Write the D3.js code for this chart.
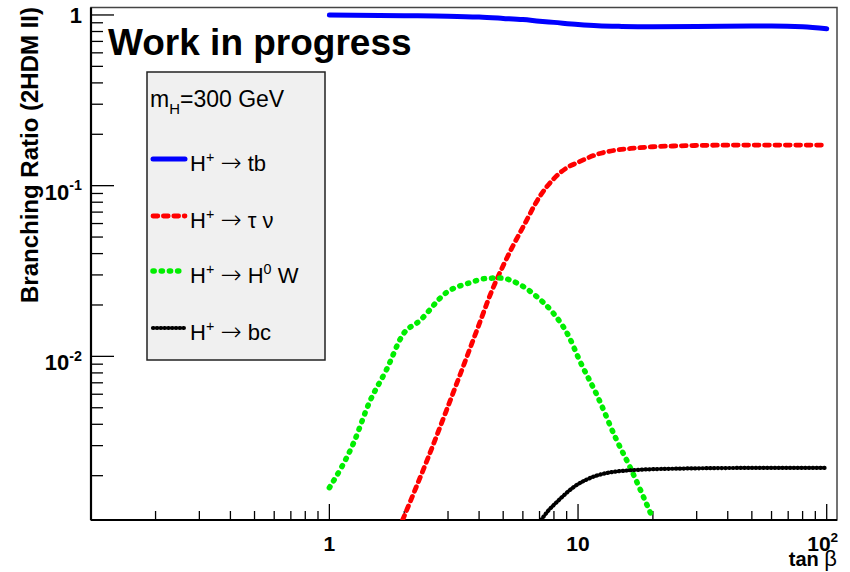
<!DOCTYPE html>
<html>
<head>
<meta charset="utf-8">
<script src="https://cdn.jsdelivr.net/npm/d3@7"></script>
<style>
  body { margin: 0; background: #fff; }
  svg { display: block; }
  text { font-family: "Liberation Sans", Arial, Helvetica, sans-serif; }
  .arrow { font-family: "DejaVu Sans", sans-serif; font-weight: 200; }
</style>
</head>
<body>
<div id="chart"></div>
<script>
const W = 850, H = 572;
const margin = { left: 91, right: 13, top: 7.5, bottom: 52 };

// H+ -> tb
const tbTan = [1, 2, 3, 4, 5, 6, 7, 8, 10, 12, 15, 20, 30, 50, 60, 80, 100];
const tbBR  = [0.998, 0.99, 0.984, 0.972, 0.955, 0.94, 0.92, 0.905, 0.88, 0.865, 0.857, 0.853, 0.857, 0.862, 0.862, 0.852, 0.83];

// H+ -> tau nu
const tvTan = [1.97, 2.5, 3, 3.5, 4, 4.5, 5, 5.5, 6, 7, 8, 9, 10, 12, 14, 17, 20, 25, 30, 50, 100];
const tvBR  = [0.0011, 0.00257, 0.0051, 0.0092, 0.0154, 0.0242, 0.034, 0.045, 0.057, 0.086, 0.110, 0.127, 0.137, 0.153, 0.161, 0.166, 0.169, 0.171, 0.172, 0.173, 0.173];

// H+ -> H0 W
const hwTan = [1.0, 1.25, 1.45, 1.7, 1.98, 2.3, 2.95, 3.67, 4.27, 4.84, 5.82, 6.79, 7.93, 9.23, 10.1, 12, 14.2, 16.1, 19.9];
const hwBR  = [0.0017, 0.0031, 0.0054, 0.0084, 0.0135, 0.0161, 0.0236, 0.027, 0.0286, 0.0288, 0.0264, 0.0225, 0.018, 0.0129, 0.0096, 0.0058, 0.0033, 0.00228, 0.00114];

// H+ -> bc
const bcTan = [7.1, 7.6, 8.17, 9.53, 11.85, 16.1, 25.5, 50, 100];
const bcBR  = [0.0011, 0.00125, 0.00139, 0.0017, 0.002, 0.00215, 0.0022, 0.00222, 0.00222];

const seriesNames  = ["H^{+} → tb", "H^{+} → τ ν", "H^{+} → H^{0} W", "H^{+} → bc"];
const seriesColors = ["#0000ff", "#ff0000", "#00ee00", "#000000"];

const xTickVals = [1, 10, 100];
const xTickText = ["1", "10", "10^{2}"];
const yTickVals = [1, 0.1, 0.01];
const yTickText = ["1", "10^{-1}", "10^{-2}"];

const styles = [
  { width: 5, dash: null, cap: "round" },
  { width: 4.8, dash: "4.8,5.6", cap: "round" },
  { width: 5.5, dash: "1.2,7", cap: "round" },
  { width: 4.2, dash: "0.5,3.3", cap: "round" }
];

const x = d3.scaleLog().domain([0.11, 110]).range([margin.left, W - margin.right]);
const y = d3.scaleLog().domain([0.0011, 1.106]).range([H - margin.bottom, margin.top]);

const svg = d3.select("#chart").append("svg")
  .attr("width", W)
  .attr("height", H);

// rich text with ^{} and _{} ; the arrow gets its own font
function richText(sel, str, size) {
  const parts = str.split(/(\^\{[^}]*\}|_\{[^}]*\}|→)/).filter(s => s.length);
  let shift = 0;
  parts.forEach(p => {
    let txt = p, fs = size, target = 0;
    if (p.startsWith("^{")) { target = -0.42 * size; txt = p.slice(2, -1); fs = size * 0.65; }
    else if (p.startsWith("_{")) { target = 0.3 * size; txt = p.slice(2, -1); fs = size * 0.65; }
    const ts = sel.append("tspan").attr("dy", target - shift).attr("font-size", fs).text(txt);
    if (p === "→") ts.attr("class", "arrow").attr("font-size", size * 1.15);
    shift = target;
  });
  return sel;
}

// frame
svg.append("rect")
  .attr("x", x.range()[0]).attr("y", y.range()[1])
  .attr("width", x.range()[1] - x.range()[0])
  .attr("height", y.range()[0] - y.range()[1])
  .attr("fill", "none").attr("stroke", "#444").attr("stroke-width", 1.5);

svg.append("defs").append("clipPath").attr("id", "plot")
  .append("rect")
  .attr("x", x.range()[0]).attr("y", y.range()[1])
  .attr("width", x.range()[1] - x.range()[0])
  .attr("height", y.range()[0] - y.range()[1]);

// minor tick values: 2..9 x 10^k inside the domain
function minorTicks(scale) {
  const [a, b] = scale.domain();
  const out = [];
  for (let k = Math.floor(Math.log10(a)); k <= Math.ceil(Math.log10(b)); k++) {
    for (let m = 2; m <= 9; m++) {
      const v = m * Math.pow(10, k);
      if (v >= a && v <= b) out.push(v);
    }
  }
  return out;
}

const x0 = x.range()[0], yb = y.range()[0];

// x ticks
const gx = svg.append("g").attr("stroke", "#000").attr("stroke-width", 1.3);
gx.selectAll(".minor").data(minorTicks(x)).join("line")
  .attr("x1", d => x(d)).attr("x2", d => x(d))
  .attr("y1", yb).attr("y2", yb - 9);
gx.selectAll(".major").data(xTickVals).join("line")
  .attr("x1", d => x(d)).attr("x2", d => x(d))
  .attr("y1", yb).attr("y2", yb - 16);

// y ticks
const gy = svg.append("g").attr("stroke", "#000").attr("stroke-width", 1.3);
gy.selectAll(".minor").data(minorTicks(y)).join("line")
  .attr("x1", x0).attr("x2", x0 + 12)
  .attr("y1", d => y(d)).attr("y2", d => y(d));
gy.selectAll(".major").data(yTickVals).join("line")
  .attr("x1", x0).attr("x2", x0 + 23)
  .attr("y1", d => y(d)).attr("y2", d => y(d));

// axis lines
svg.append("line").attr("x1", x0).attr("x2", x.range()[1]).attr("y1", yb).attr("y2", yb)
  .attr("stroke", "#000").attr("stroke-width", 2.2);
svg.append("line").attr("x1", x0).attr("x2", x0).attr("y1", yb).attr("y2", y.range()[1])
  .attr("stroke", "#000").attr("stroke-width", 2.2);

// tick labels
xTickVals.forEach((v, i) => {
  const t = svg.append("text")
    .attr("x", x(v) - (i === 2 ? 4 : 0)).attr("y", 551)
    .attr("text-anchor", "middle")
    .attr("font-weight", "bold").attr("font-size", 21);
  richText(t, xTickText[i], 21);
});
yTickVals.forEach((v, i) => {
  const t = svg.append("text")
    .attr("x", 82).attr("y", y(v) + (i === 0 ? 8 : 14))
    .attr("text-anchor", "end")
    .attr("font-weight", "bold").attr("font-size", 22);
  richText(t, yTickText[i], 22);
});

// axis titles
const xt = svg.append("text").attr("x", 837).attr("y", 566).attr("text-anchor", "end");
xt.append("tspan").attr("font-weight", "bold").attr("font-size", 20).text("tan ");
xt.append("tspan").attr("font-size", 22).text("β");

svg.append("text")
  .attr("transform", "translate(38,7) rotate(-90)")
  .attr("text-anchor", "end")
  .attr("font-weight", "bold").attr("font-size", 24)
  .text("Branching Ratio (2HDM II)");

// curves
const line = d3.line()
  .x(d => x(d[0])).y(d => y(d[1]))
  .curve(d3.curveMonotoneX);

const series = [
  d3.zip(tbTan, tbBR),
  d3.zip(tvTan, tvBR),
  d3.zip(hwTan, hwBR),
  d3.zip(bcTan, bcBR)
];

const gc = svg.append("g").attr("clip-path", "url(#plot)");
series.forEach((s, i) => {
  gc.append("path")
    .attr("d", line(s))
    .attr("fill", "none")
    .attr("stroke", seriesColors[i])
    .attr("stroke-width", styles[i].width)
    .attr("stroke-linecap", styles[i].cap)
    .attr("stroke-dasharray", styles[i].dash);
});

// title
svg.append("text")
  .attr("x", 108).attr("y", 55)
  .attr("font-weight", "bold").attr("font-size", 37)
  .text("Work in progress");

// legend
const lg = svg.append("g");
lg.append("rect")
  .attr("x", 147).attr("y", 72).attr("width", 178).attr("height", 288)
  .attr("fill", "#f0f0f0").attr("stroke", "#222").attr("stroke-width", 1.5);

richText(lg.append("text").attr("x", 150).attr("y", 107).attr("font-size", 23), "m_{H}=300 GeV", 23);

const legendBase = [171, 228, 283, 340];
seriesNames.forEach((name, i) => {
  const by = legendBase[i];
  lg.append("line")
    .attr("x1", 153).attr("x2", 185)
    .attr("y1", by - 12).attr("y2", by - 12)
    .attr("stroke", seriesColors[i])
    .attr("stroke-width", styles[i].width)
    .attr("stroke-linecap", styles[i].cap)
    .attr("stroke-dasharray", styles[i].dash);
  richText(lg.append("text").attr("x", 190).attr("y", by).attr("font-size", 22), name, 22);
});
</script>
</body>
</html>
